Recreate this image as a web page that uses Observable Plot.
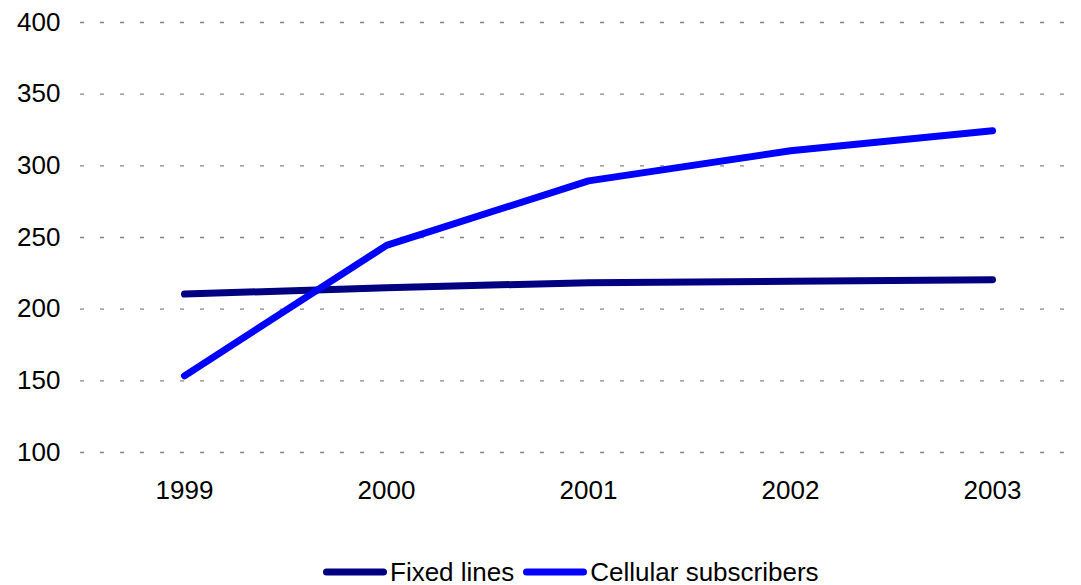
<!DOCTYPE html>
<html>
<head>
<meta charset="utf-8">
<script src="https://cdn.jsdelivr.net/npm/d3@7"></script>
<script src="https://cdn.jsdelivr.net/npm/@observablehq/plot@0.6"></script>
<style>
  html, body { margin: 0; padding: 0; background: #fff; }
  body { width: 1081px; height: 585px; overflow: hidden; font-family: "Liberation Sans", Arial, sans-serif; }
  #chart svg { display: block; }
  #legend { height: 26px; padding-top: 14px; display: flex; align-items: center; padding-left: 323px; font-size: 26px; color: #000; }
  #legend .item { display: flex; align-items: center; }
  #legend .item svg { display: block; }
  #legend .label { margin-left: 3px; line-height: 26px; }
</style>
</head>
<body>
<div id="chart"></div>
<div id="legend"></div>
<script>
const years = ["1999", "2000", "2001", "2002", "2003"];
const fixedLines = [210.5, 215, 218.5, 219.5, 220.5];
const cellular = [153.5, 244.5, 289.5, 310.5, 324.5];
const seriesNames = ["Fixed lines", "Cellular subscribers"];
const seriesColors = ["#000080", "#0000ff"];
const yTicks = [100, 150, 200, 250, 300, 350, 400];

const data = [];
years.forEach((y, i) => {
  data.push({year: y, value: fixedLines[i], series: seriesNames[0]});
  data.push({year: y, value: cellular[i], series: seriesNames[1]});
});

const plot = Plot.plot({
  width: 1081,
  height: 545,
  marginTop: 22,
  marginBottom: 93,
  marginLeft: 80,
  marginRight: 11,
  style: {fontFamily: "'Liberation Sans', Arial, sans-serif", fontSize: "26px", color: "#000", background: "#fff"},
  x: {type: "point", domain: years, range: [182, 993], padding: 0, label: null},
  y: {domain: [100, 400], label: null},
  color: {domain: seriesNames, range: seriesColors},
  marks: [
    Plot.ruleY(yTicks, {stroke: "#888", strokeWidth: 1.3, strokeDasharray: "4,16", strokeOpacity: 1}),
    Plot.axisY({ticks: yTicks, tickSize: 0, tickPadding: 20, label: null, fontSize: 26}),
    Plot.axisX({tickSize: 0, tickPadding: 28, label: null, fontSize: 26}),
    Plot.line(data, {x: "year", y: "value", z: "series", stroke: d => d.series, strokeWidth: 7, strokeLinecap: "round", strokeLinejoin: "round"})
  ]
});
document.getElementById("chart").appendChild(plot);

const legend = document.getElementById("legend");
seriesNames.forEach((name, i) => {
  const item = document.createElement("div");
  item.className = "item";
  if (i > 0) item.style.marginLeft = "9px";
  item.innerHTML = `<svg width="64" height="10"><line x1="3.5" y1="5" x2="60.5" y2="5" stroke="${seriesColors[i]}" stroke-width="7" stroke-linecap="round"/></svg><span class="label">${name}</span>`;
  legend.appendChild(item);
});
</script>
</body>
</html>
